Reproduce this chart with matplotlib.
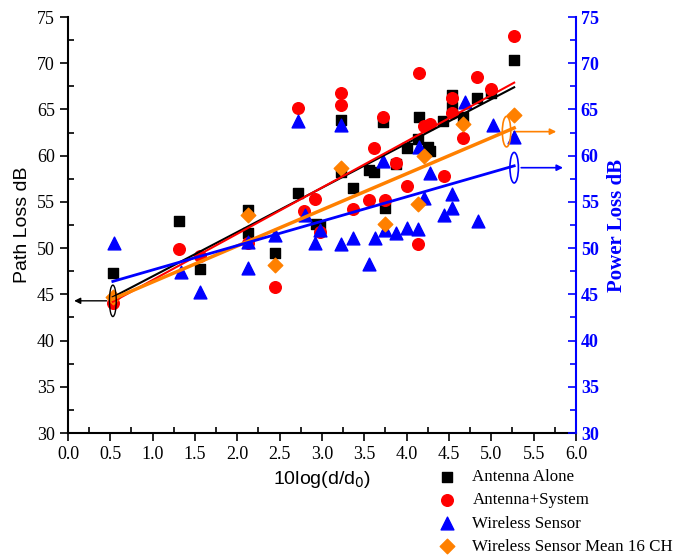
import matplotlib
matplotlib.use('Agg')
import matplotlib.pyplot as plt
from matplotlib.patches import Ellipse
from matplotlib.ticker import MultipleLocator
import numpy as np

# Antenna Alone (black squares)
alone_x = [0.53, 1.31, 1.56, 2.13, 2.13, 2.44, 2.72, 2.93, 2.98, 3.23, 3.23, 3.37, 3.56, 3.62,
           3.72, 3.74, 3.87, 4.00, 4.14, 4.15, 4.25, 4.27, 4.43, 4.53, 4.53, 4.67, 4.83, 5.00, 5.27]
alone_y = [47.3, 52.9, 47.7, 54.1, 51.6, 49.5, 56.0, 52.6, 52.5, 58.2, 63.9, 56.5, 58.4, 58.2,
           63.6, 54.3, 59.1, 60.8, 61.8, 64.2, 60.9, 60.5, 63.7, 66.6, 65.3, 64.2, 66.2, 66.8, 70.3]

# Antenna+System (red circles)
system_x = [0.53, 1.31, 1.56, 2.13, 2.44, 2.72, 2.79, 2.92, 2.98, 3.23, 3.23, 3.37, 3.56, 3.62, 3.72,
            3.74, 3.87, 4.00, 4.14, 4.15, 4.20, 4.27, 4.44, 4.53, 4.53, 4.67, 4.83, 5.00, 5.27]
system_y = [44.1, 49.9, 49.1, 50.6, 45.8, 65.2, 54.0, 55.3, 51.7, 66.8, 65.5, 54.2, 55.2, 60.8, 64.2,
            55.2, 59.2, 56.7, 50.4, 68.9, 63.2, 63.4, 57.8, 66.2, 64.6, 61.9, 68.5, 67.2, 73.0]

# Wireless Sensor (blue triangles, power loss)
sensor_x = [0.54, 1.33, 1.56, 2.13, 2.13, 2.45, 2.72, 2.80, 2.92, 2.98, 3.23, 3.23, 3.37, 3.56, 3.63,
            3.72, 3.75, 3.87, 4.00, 4.14, 4.15, 4.21, 4.27, 4.44, 4.53, 4.53, 4.69, 4.84, 5.02, 5.27]
sensor_y = [50.6, 47.4, 45.2, 50.7, 47.8, 51.4, 63.8, 53.6, 50.6, 52.0, 63.3, 50.4, 51.1, 48.3, 51.1,
            59.4, 52.0, 51.6, 52.2, 52.1, 60.9, 55.4, 58.1, 53.6, 55.9, 54.3, 65.8, 52.9, 63.3, 62.0]

# Wireless Sensor Mean 16 CH (orange diamonds)
mean_x = [0.53, 2.13, 2.45, 3.23, 3.75, 4.14, 4.21, 4.67, 5.27]
mean_y = [44.7, 53.6, 48.2, 58.7, 52.6, 54.8, 60.0, 63.4, 64.4]

# linear fit end points
fit_x = [0.53, 5.27]
alone_fit = [44.7, 67.4]
system_fit = [44.2, 67.9]
sensor_fit = [46.4, 58.9]
mean_fit = [44.5, 63.0]

orange = '#ff8000'

fig = plt.figure(figsize=(6.75, 5.56), dpi=100)
ax = fig.add_axes([0.1007, 0.2212, 0.7526, 0.7482])
ax2 = ax.twinx()

ax.scatter(alone_x, alone_y, marker='s', s=55, color='black', zorder=3, label='Antenna Alone')
ax.scatter(system_x, system_y, marker='o', s=70, color='red', zorder=4, label='Antenna+System')
ax.scatter(sensor_x, sensor_y, marker='^', s=85, color='blue', zorder=5, label='Wireless Sensor')
ax.scatter(mean_x, mean_y, marker='D', s=55, color=orange, zorder=6, label='Wireless Sensor Mean 16 CH')

ax.plot(fit_x, alone_fit, color='black', lw=1.5, zorder=7)
ax.plot(fit_x, system_fit, color='red', lw=1.5, zorder=7)
ax.plot(fit_x, mean_fit, color=orange, lw=2.5, zorder=7)
ax.plot(fit_x, sensor_fit, color='blue', lw=2.0, zorder=7)

# ellipses and arrows showing which axis
ax.add_patch(Ellipse((0.53, 44.3), 0.08, 3.4, fill=False, ec='black', lw=1, zorder=8))
ax.annotate('', xy=(0.04, 44.3), xytext=(0.49, 44.3),
            arrowprops=dict(arrowstyle='-|>', color='black', lw=1, mutation_scale=9))
ax.add_patch(Ellipse((5.18, 62.6), 0.1, 3.3, fill=False, ec=orange, lw=1.2, zorder=8))
ax.annotate('', xy=(5.8, 62.6), xytext=(5.23, 62.6),
            arrowprops=dict(arrowstyle='-|>', color=orange, lw=1.2, mutation_scale=9))
ax.add_patch(Ellipse((5.27, 58.7), 0.1, 3.3, fill=False, ec='blue', lw=1.2, zorder=8))
ax.annotate('', xy=(5.88, 58.7), xytext=(5.32, 58.7),
            arrowprops=dict(arrowstyle='-|>', color='blue', lw=1.2, mutation_scale=9))

for a in (ax, ax2):
    a.set_xlim(0, 6)
    a.set_ylim(30, 75)
ax.spines['top'].set_visible(False)
ax2.spines['top'].set_visible(False)
ax2.spines['left'].set_visible(False)
ax2.spines['bottom'].set_visible(False)
ax.spines['right'].set_visible(False)
ax2.spines['right'].set_color('blue')
for s in ('left', 'bottom'):
    ax.spines[s].set_linewidth(1.5)
ax2.spines['right'].set_linewidth(1.5)

ax.xaxis.set_major_locator(MultipleLocator(0.5))
ax.xaxis.set_minor_locator(MultipleLocator(0.25))
ax.yaxis.set_major_locator(MultipleLocator(5))
ax.yaxis.set_minor_locator(MultipleLocator(2.5))
ax2.yaxis.set_major_locator(MultipleLocator(5))
ax2.yaxis.set_minor_locator(MultipleLocator(2.5))
ax.set_xticks(np.arange(0, 6.01, 0.5))
ax.set_xticklabels(['%.1f' % v for v in np.arange(0, 6.01, 0.5)])

ax.tick_params(which='major', direction='out', length=6, width=1.2)
ax.tick_params(which='minor', direction='in', length=4, width=1.2)
ax2.tick_params(which='both', direction='in', colors='blue', width=1.2)
ax2.tick_params(which='major', length=6)
ax2.tick_params(which='minor', length=4)

for lab in ax.get_xticklabels() + ax.get_yticklabels():
    lab.set_fontfamily('Liberation Serif')
    lab.set_fontsize(13)
for lab in ax2.get_yticklabels():
    lab.set_fontfamily('Liberation Serif')
    lab.set_fontsize(13)
    lab.set_fontweight('bold')
    lab.set_color('blue')

ax.set_xlabel('10log(d/d$_0$)', fontfamily='Liberation Sans', fontsize=14, labelpad=4)
ax.set_ylabel('Path Loss dB', fontfamily='Liberation Sans', fontsize=14, labelpad=4)
ax2.set_ylabel('Power Loss dB', fontfamily='Liberation Serif', fontsize=15, fontweight='bold',
               color='blue', labelpad=6)

fig.legend(loc='upper left', bbox_to_anchor=(0.637, 0.168), frameon=False, handletextpad=0.9,
           handlelength=1.2, labelspacing=0.42, borderaxespad=0,
           prop={'family': 'Liberation Serif', 'size': 12.2})

fig.savefig('out.png', dpi=100)
